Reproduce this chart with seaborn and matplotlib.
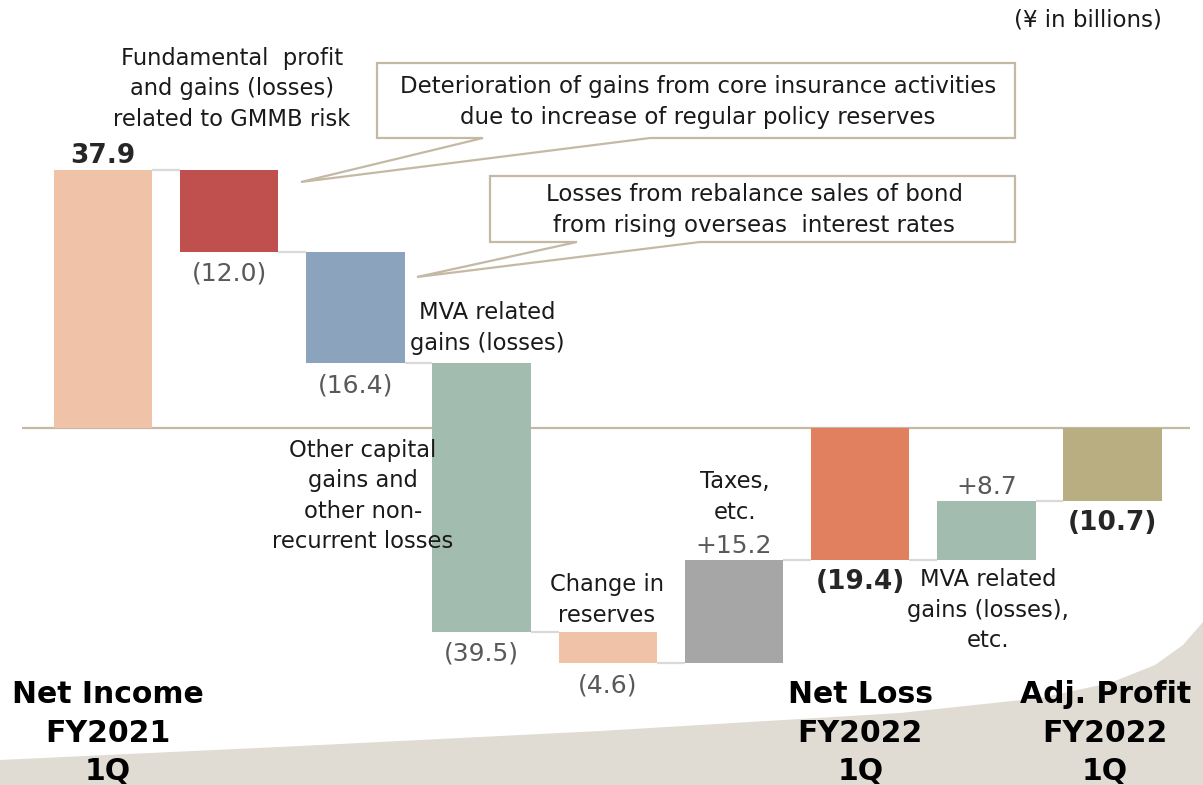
import matplotlib.pyplot as plt
import matplotlib.transforms as mtransforms
from matplotlib.patches import Polygon
import seaborn as sns
import pandas as pd
import numpy as np

# waterfall data (¥ in billions)
steps = ['Net Income FY2021 1Q', 'GMMB', 'Bond sales', 'Other capital', 'Reserves',
         'Taxes', 'Net Loss FY2022 1Q', 'MVA', 'Adj. Profit FY2022 1Q']
values = [37.9, -12.0, -16.4, -39.5, -4.6, 15.2, -19.4, 8.7, -10.7]
is_total = [True, False, False, False, False, False, True, False, True]
value_labels = ['37.9', '(12.0)', '(16.4)', '(39.5)', '(4.6)', '+15.2', '(19.4)', '+8.7', '(10.7)']
bar_colors = ['#f0c3a8', '#c0504d', '#8ca3be', '#a2bdb0', '#f0c3a8',
              '#a6a6a6', '#e0805e', '#a2bdb0', '#b8ae82']
total_labels = ['Net Income\nFY2021\n1Q', 'Net Loss\nFY2022\n1Q', 'Adj. Profit\nFY2022\n1Q']

# bar spans
low, high, level = [], [], []
run = 0.0
for v, t in zip(values, is_total):
    start = 0.0 if t else run
    run = v if t else run + v
    low.append(min(start, run))
    high.append(max(start, run))
    level.append(run)
df = pd.DataFrame({'step': steps, 'size': np.array(high) - np.array(low), 'low': low})

sns.set_style('white')
plt.rcParams['font.family'] = ['DejaVu Sans']

W, H = 1203, 785
fig = plt.figure(figsize=(W / 100, H / 100), dpi=100)


def px(x, y):
    return x / W, 1 - y / H


# beige backdrop at the bottom
shape = [(0, 785), (0, 760), (300, 746), (600, 731), (900, 713), (1040, 698),
         (1110, 683), (1155, 665), (1183, 645), (1203, 622), (1203, 785)]
fig.patches.append(Polygon([px(x, y) for x, y in shape], closed=True,
                           transform=fig.transFigure, facecolor='#e0dcd4',
                           edgecolor='none', zorder=0))

ax = fig.add_axes([0, 0, 1, 1], zorder=1)
ax.patch.set_alpha(0)
sns.barplot(data=df, x='step', y='size', order=steps, bottom=df['low'].values,
            color='#cccccc', saturation=1, width=0.78, errorbar=None,
            linewidth=0, ax=ax)
for patch, c in zip(ax.patches, bar_colors):
    patch.set_facecolor(c)

ax.set_xlim(-0.816, 8.716)
ax.set_ylim(-52.5, 62.94)
ax.axis('off')

# zero line and connectors
ax.hlines(0, -0.642, 8.614, color='#c4b9a5', lw=1.6, zorder=0.5)
for i in range(len(steps) - 1):
    ax.hlines(level[i], i + 0.39, i + 0.61, color='#d9d9d9', lw=1.6, zorder=0.5)

# value labels
for i, (lab, v, t) in enumerate(zip(value_labels, values, is_total)):
    if v >= 0:
        y, dy = high[i], 14
    else:
        y, dy = low[i], -22
    ax.annotate(lab, (i, y), xytext=(0, dy), textcoords='offset pixels',
                ha='center', va='center',
                fontsize=19 if t else 18,
                fontweight='bold' if t else 'normal',
                color='#262626' if t else '#595959')

# category labels under the totals
blend = mtransforms.blended_transform_factory(ax.transData, fig.transFigure)
total_shift = [0.04, 0.0, -0.06]
for i, lab, dx in zip([k for k, t in enumerate(is_total) if t], total_labels, total_shift):
    ax.text(i + dx, 1 - 733 / H, lab, transform=blend, ha='center', va='center',
            fontsize=21.5, fontweight='bold', color='black', linespacing=1.42)

# callout boxes
callouts = [
    ([(377, 63), (1015, 63), (1015, 138), (650, 138), (301, 182), (483, 138), (377, 138)],
     (698, 102), 'Deterioration of gains from core insurance activities\n'
                 'due to increase of regular policy reserves'),
    ([(490, 176), (1015, 176), (1015, 242), (700, 242), (417, 277), (577, 242), (490, 242)],
     (754, 210), 'Losses from rebalance sales of bond\n'
                 'from rising overseas  interest rates'),
]
for pts, (tx, ty), txt in callouts:
    fig.patches.append(Polygon([px(x, y) for x, y in pts], closed=True,
                               transform=fig.transFigure, facecolor='white',
                               edgecolor='#c4b9a5', lw=1.6, zorder=2))
    fig.text(*px(tx, ty), txt, ha='center', va='center', fontsize=16.5,
             linespacing=1.45, color='#1a1a1a', zorder=3)

notes = [
    (232, 89, 'Fundamental  profit\nand gains (losses)\nrelated to GMMB risk'),
    (487, 328, 'MVA related\ngains (losses)'),
    (363, 496, 'Other capital\ngains and\nother non-\nrecurrent losses'),
    (607, 600, 'Change in\nreserves'),
    (735, 497, 'Taxes,\netc.'),
    (988, 610, 'MVA related\ngains (losses),\netc.'),
]
for x, y, txt in notes:
    fig.text(*px(x, y), txt, ha='center', va='center', fontsize=16.3,
             linespacing=1.42, color='#1a1a1a', zorder=3)

fig.text(*px(1162, 20), '(¥ in billions)', ha='right', va='center', fontsize=16.5,
         color='#1a1a1a')

fig.savefig('out.png', dpi=100)
